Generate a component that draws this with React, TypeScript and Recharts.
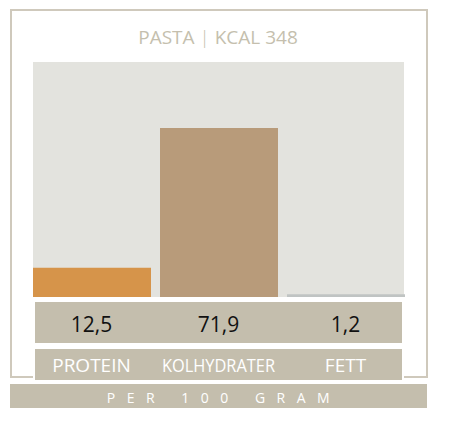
import { BarChart, Bar, XAxis, YAxis, Cell } from "recharts";

const names = ["PROTEIN", "KOLHYDRATER", "FETT"];
const values = [12.5, 71.9, 1.2];
const colors = ["#d6944a", "#b89b7a", "#c0c4c3"];

const data = names.map((name, i) => ({ name, value: values[i] }));

const FONT = "'Open Sans', 'Noto Sans', sans-serif";
const BOX = "#c4bead";

const ValueTick = (props: any) => {
  const { x, y, index } = props;
  return (
    <text x={x} y={y + 35} textAnchor="middle" fill="#111" fontSize={21} fontFamily={FONT}>
      {String(values[index]).replace(".", ",")}
    </text>
  );
};

const NameTick = (props: any) => {
  const { x, y, payload } = props;
  const long = payload.value.length > 8;
  return (
    <text
      x={x}
      y={y + 29}
      textAnchor="middle"
      fill="#fff"
      fontSize={19}
      fontFamily={FONT}
      {...(long ? { textLength: 113, lengthAdjust: "spacingAndGlyphs" } : {})}
    >
      {payload.value}
    </text>
  );
};

export default function App() {
  return (
    <div style={{ position: "absolute", left: 0, top: 0, width: 450, height: 427, background: "#fff", fontFamily: FONT }}>
      {/* frame */}
      <div style={{ position: "absolute", left: 10, top: 9, width: 414, height: 365, border: "2px solid #cfc9bc" }} />
      <div style={{ position: "absolute", left: 0, top: 24, width: 436, textAlign: "center", color: "#c5bfae", fontSize: 19 }}>
        PASTA <span style={{ fontWeight: 300 }}>|</span> KCAL 348
      </div>
      {/* plot background */}
      <div style={{ position: "absolute", left: 33, top: 62, width: 371, height: 235, background: "#e3e3de" }} />
      {/* value + label boxes */}
      <div style={{ position: "absolute", left: 35, top: 302, width: 367, height: 41, background: BOX }} />
      <div style={{ position: "absolute", left: 33, top: 347, width: 367, height: 31, background: BOX, border: "2px solid #fff" }} />
      {/* footer */}
      <div
        style={{
          position: "absolute",
          left: 10,
          top: 384,
          width: 417,
          height: 24,
          background: BOX,
          color: "#fff",
          fontSize: 14,
          lineHeight: "27px",
          textAlign: "center",
          letterSpacing: 11.5,
          textIndent: 11,
        }}
      >
        PER 100 GRAM
      </div>
      <div style={{ position: "absolute", left: 0, top: 0 }}>
        <BarChart width={450} height={427} data={data} margin={{ top: 62, right: 41, left: 28, bottom: 48 }} barSize={118}>
          <YAxis hide domain={[0, 100]} />
          <XAxis xAxisId="a_val" dataKey="name" height={46} axisLine={false} tickLine={false} tickSize={0} tickMargin={0} tick={<ValueTick />} interval={0} />
          <XAxis xAxisId="b_name" dataKey="name" height={36} axisLine={false} tickLine={false} tickSize={0} tickMargin={0} tick={<NameTick />} interval={0} />
          <Bar xAxisId="a_val" dataKey="value" isAnimationActive={false}>
            {data.map((d, i) => (
              <Cell key={d.name} fill={colors[i]} />
            ))}
          </Bar>
        </BarChart>
      </div>
    </div>
  );
}
